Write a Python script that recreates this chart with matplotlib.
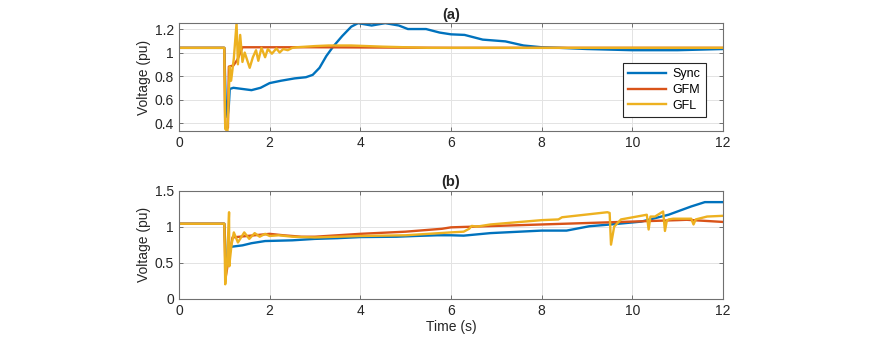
import matplotlib.pyplot as plt

# ---- panel (a) ----
a_sync_t = [0, 1.0, 1.03, 1.07, 1.10, 1.12, 1.2, 1.4, 1.6, 1.8, 2.0, 2.25, 2.55, 2.8, 2.95,
            3.1, 3.25, 3.4, 3.6, 3.8, 3.95, 4.25, 4.55, 4.85, 5.05, 5.45, 5.75, 6.0, 6.3,
            6.7, 7.2, 7.6, 8.0, 8.4, 9.0, 9.5, 10.0, 11.0, 12.0]
a_sync_v = [1.04, 1.04, 0.60, 0.45, 0.55, 0.69, 0.70, 0.69, 0.68, 0.70, 0.74, 0.76, 0.78, 0.79, 0.81,
            0.87, 0.97, 1.05, 1.14, 1.22, 1.25, 1.23, 1.25, 1.23, 1.20, 1.20, 1.17, 1.155, 1.15,
            1.11, 1.095, 1.06, 1.045, 1.04, 1.03, 1.025, 1.02, 1.02, 1.03]

a_gfm_t = [0, 1.0, 1.02, 1.08, 1.10, 1.2, 1.29, 1.4, 3.0, 6.0, 12.0]
a_gfm_v = [1.04, 1.04, 0.36, 0.36, 0.88, 0.89, 0.94, 1.045, 1.045, 1.04, 1.04]

a_gfl_t = [0, 1.0, 1.02, 1.07, 1.12, 1.15, 1.21, 1.27, 1.30, 1.35, 1.40, 1.45, 1.56, 1.63,
           1.70, 1.75, 1.82, 1.90, 1.96, 2.05, 2.15, 2.22, 2.30, 2.40, 2.50, 2.6, 3.0,
           3.3, 3.8, 4.5, 5.5, 12.0]
a_gfl_v = [1.04, 1.04, 0.35, 0.33, 0.88, 0.76, 0.95, 1.25, 0.90, 1.15, 0.92, 1.00, 0.87, 0.96,
           1.02, 0.93, 1.04, 0.96, 1.03, 0.99, 1.035, 1.0, 1.03, 1.02, 1.04, 1.045, 1.055,
           1.06, 1.06, 1.05, 1.04, 1.04]

# ---- panel (b) ----
b_sync_t = [0, 1.0, 1.03, 1.07, 1.12, 1.15, 1.4, 1.6, 1.9, 2.5, 3.0, 3.5, 4.0, 4.8, 5.2,
            5.7, 6.0, 6.28, 6.87, 8.0, 8.55, 9.05, 9.65, 10.2, 10.8, 11.3, 11.6, 12.0]
b_sync_v = [1.04, 1.04, 0.60, 0.46, 0.70, 0.72, 0.74, 0.77, 0.80, 0.81, 0.83, 0.84, 0.855, 0.86, 0.87,
            0.88, 0.88, 0.875, 0.91, 0.945, 0.945, 1.005, 1.037, 1.07, 1.165, 1.28, 1.34, 1.34]

b_gfm_t = [0, 1.0, 1.03, 1.07, 1.18, 1.5, 2.0, 2.3, 2.7, 3.0, 3.5, 4.0, 5.0, 5.8, 6.0,
           6.5, 7.0, 8.0, 9.0, 10.0, 11.0, 11.2, 12.0]
b_gfm_v = [1.04, 1.04, 0.30, 0.45, 0.85, 0.87, 0.90, 0.88, 0.86, 0.86, 0.88, 0.90, 0.93, 0.97, 0.99,
           1.0, 1.01, 1.03, 1.05, 1.07, 1.09, 1.095, 1.065]

b_gfl_t = [0, 1.0, 1.02, 1.06, 1.105, 1.11, 1.125, 1.16, 1.21, 1.30, 1.44, 1.55, 1.67, 1.78,
           1.90, 2.0, 2.2, 2.5, 3.0, 3.5, 4.0, 5.0, 6.0, 6.28, 6.40, 6.46, 6.57, 6.87,
           8.0, 8.37, 8.45, 9.45, 9.50, 9.53, 9.60, 9.75, 10.32, 10.36, 10.40, 10.5,
           10.68, 10.72, 10.76, 10.8, 10.9, 11.3, 11.35, 11.40, 11.65, 12.0]
b_gfl_v = [1.04, 1.04, 0.20, 0.50, 1.20, 0.45, 0.55, 0.75, 0.92, 0.78, 0.92, 0.83, 0.91, 0.86,
           0.90, 0.87, 0.88, 0.86, 0.85, 0.86, 0.87, 0.88, 0.92, 0.93, 0.97, 1.01, 1.0, 1.03,
           1.09, 1.10, 1.13, 1.20, 1.19, 0.75, 1.0, 1.10, 1.165, 0.96, 1.14, 1.14,
           1.21, 0.94, 1.08, 1.10, 1.11, 1.11, 1.03, 1.10, 1.14, 1.15]

c_sync = '#0072BD'
c_gfm = '#D95319'
c_gfl = '#EDB120'
dark = '#262626'
edge = '#707070'

plt.rcParams['font.family'] = ['Liberation Sans', 'DejaVu Sans']
plt.rcParams['font.size'] = 10

fig = plt.figure(figsize=(8.86, 3.51), dpi=100)
ax1 = fig.add_axes([0.202, 0.626, 0.614, 0.308])
ax2 = fig.add_axes([0.202, 0.149, 0.614, 0.308])

lw = 1.7
ax1.plot(a_sync_t, a_sync_v, color=c_sync, lw=lw, label='Sync')
ax1.plot(a_gfm_t, a_gfm_v, color=c_gfm, lw=lw, label='GFM')
ax1.plot(a_gfl_t, a_gfl_v, color=c_gfl, lw=lw, label='GFL')
ax1.set_ylim(0.33, 1.25)
ax1.set_yticks([0.4, 0.6, 0.8, 1.0, 1.2])
ax1.set_yticklabels(['0.4', '0.6', '0.8', '1', '1.2'])
ax1.set_title('(a)', fontweight='bold', fontsize=10.5, pad=3, color=dark)
leg = ax1.legend(loc='lower right', bbox_to_anchor=(0.968, 0.135), borderaxespad=0,
                 fancybox=False, edgecolor=dark, framealpha=1, fontsize=9,
                 handlelength=3.1, borderpad=0.4, labelspacing=0.3, handletextpad=0.5)
leg.get_frame().set_linewidth(0.8)

ax2.plot(b_sync_t, b_sync_v, color=c_sync, lw=lw)
ax2.plot(b_gfm_t, b_gfm_v, color=c_gfm, lw=lw)
ax2.plot(b_gfl_t, b_gfl_v, color=c_gfl, lw=lw)
ax2.set_ylim(0, 1.5)
ax2.set_yticks([0, 0.5, 1.0, 1.5])
ax2.set_yticklabels(['0', '0.5', '1', '1.5'])
ax2.set_title('(b)', fontweight='bold', fontsize=10.5, pad=3, color=dark)
ax2.set_xlabel('Time (s)', color=dark, labelpad=2)

for ax in (ax1, ax2):
    ax.set_xlim(0, 12)
    ax.set_xticks([0, 2, 4, 6, 8, 10, 12])
    ax.grid(True, color='#e3e3e3', lw=0.7)
    ax.set_axisbelow(True)
    ax.set_ylabel('Voltage (pu)', color=dark, labelpad=3)
    ax.tick_params(direction='in', top=True, right=True, length=3, width=0.7,
                   color=edge, labelcolor=dark, labelsize=10)
    for s in ax.spines.values():
        s.set_color(edge)
        s.set_linewidth(0.8)

fig.savefig('out.png', dpi=100)
